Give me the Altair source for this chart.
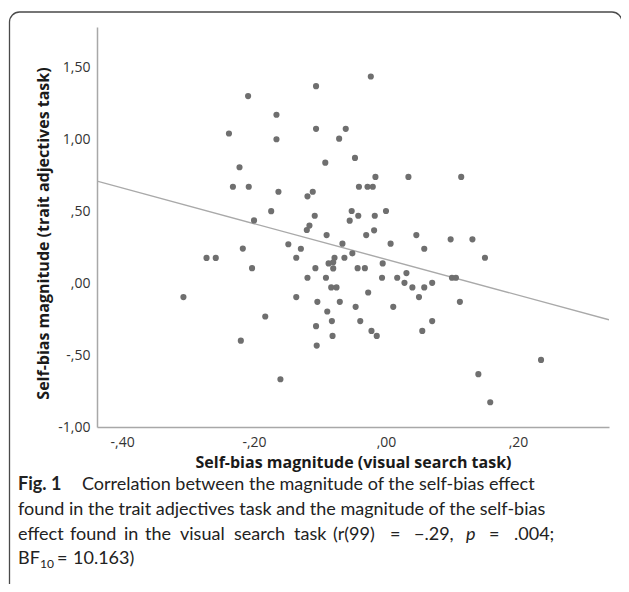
import altair as alt
import pandas as pd

# Self-bias magnitude (visual search task)
visual = [
    -0.209, -0.166, -0.238, -0.166, -0.222, -0.232, -0.208, -0.163, -0.174, -0.200,
    -0.148, -0.217, -0.272, -0.258, -0.203, -0.307, -0.183, -0.220, -0.160,
    -0.023, -0.106, -0.106, -0.061, -0.071, -0.092, -0.047, -0.016, 0.034, 0.114,
    -0.041, -0.028, -0.020, -0.111, -0.119, -0.108, -0.052, 0.000, -0.042, -0.017,
    -0.055, -0.116, -0.120, -0.018, -0.090, -0.030, 0.046, -0.129, -0.066, 0.007,
    0.098, 0.131, 0.058, 0.150, -0.136, -0.078, -0.063, -0.051,
    -0.107, -0.087, -0.080, -0.080, -0.043, -0.032, -0.005, -0.119, -0.091, -0.083,
    -0.075, -0.006, 0.017, 0.031, 0.028, 0.040, 0.058, 0.070, 0.100, 0.106,
    -0.136, -0.104, -0.070, -0.027, 0.050, 0.112, -0.046, 0.011, -0.089, -0.106,
    -0.082, -0.039, 0.070, -0.081, -0.022, -0.014, 0.055, -0.105, 0.140, 0.158, 0.235,
]
# Self-bias magnitude (trait adjectives task)
trait = [
    1.300, 1.170, 1.040, 1.000, 0.805, 0.670, 0.670, 0.635, 0.500, 0.436,
    0.270, 0.240, 0.175, 0.175, 0.104, -0.097, -0.232, -0.400, -0.668,
    1.436, 1.369, 1.072, 1.072, 1.004, 0.837, 0.870, 0.738, 0.738, 0.738,
    0.670, 0.670, 0.670, 0.635, 0.603, 0.468, 0.501, 0.501, 0.468, 0.468,
    0.434, 0.400, 0.369, 0.367, 0.334, 0.334, 0.334, 0.239, 0.274, 0.274,
    0.304, 0.304, 0.239, 0.176, 0.176, 0.176, 0.176, 0.207,
    0.104, 0.137, 0.145, 0.102, 0.104, 0.104, 0.137, 0.037, 0.037, -0.030,
    -0.030, 0.037, 0.037, 0.070, 0.002, -0.030, -0.030, 0.002, 0.037, 0.037,
    -0.097, -0.130, -0.130, -0.065, -0.097, -0.130, -0.165, -0.165, -0.197, -0.299,
    -0.264, -0.264, -0.264, -0.367, -0.332, -0.367, -0.332, -0.434, -0.633, -0.828, -0.534,
]

x_ticks = [-0.4, -0.2, 0.0, 0.2]
y_ticks = [-1.0, -0.5, 0.0, 0.5, 1.0, 1.5]
x_domain = [-0.438, 0.338]
y_domain = [-1.0, 1.78]

x_title = "Self-bias magnitude (visual search task)"
y_title = "Self-bias magnitude (trait adjectives task)"
cap_fig = "Fig. 1"
cap_l1 = "Correlation between the magnitude of the self-bias effect"
cap_l2 = "found in the trait adjectives task and the magnitude of the self-bias"
# third caption line, justified word by word
cap_l3_words = ["effect", "found", "in", "the", "visual", "search", "task", "(r(99)",
                "=", "\u2212.29,", "p", "=", ".004;"]
cap_l3_x = [-79, -27, 27, 48, 83, 137, 197, 236, 293, 317, 369, 392, 417]
cap_l3_italic = ["p"]
cap_l4a = "BF"
cap_l4sub = "10"
cap_l4eq = "="
cap_l4b = "10.163)"

df = pd.DataFrame({"visual": visual, "trait": trait})

label_expr = ("replace(replace(replace(format(datum.value, '.2f'), '\u2212', '-'), "
              "'.', ','), '0,', ',')")

x_enc = alt.X("visual:Q",
              scale=alt.Scale(domain=x_domain, nice=False, zero=False),
              axis=alt.Axis(values=x_ticks, labelExpr=label_expr, title=x_title,
                            titleY=35, titleBaseline="middle", labelPadding=15,
                            labelBaseline="middle"))
y_enc = alt.Y("trait:Q",
              scale=alt.Scale(domain=y_domain, nice=False, zero=False),
              axis=alt.Axis(values=y_ticks, labelExpr=label_expr, title=y_title,
                            titleX=-54, titleY=206, titleBaseline="middle",
                            titleAlign="center", labelPadding=7))

base = alt.Chart(df)

points = base.mark_circle(size=38, color="#6f6f6f", opacity=1).encode(x=x_enc, y=y_enc)

reg = base.transform_regression("visual", "trait", extent=x_domain).mark_line(
    color="#a9a9a9", strokeWidth=1.4, clip=True
).encode(x=x_enc, y=y_enc)

CAP_FONT = "Lato"
CAP_SIZE = 18
CAP_COLOR = "#222222"


def txt(s, x, y, size=CAP_SIZE, weight="normal", style="normal"):
    return alt.Chart(alt.Data(values=[{"t": s}])).mark_text(
        align="left", baseline="middle", font=CAP_FONT, fontSize=size,
        fontWeight=weight, fontStyle=style, color=CAP_COLOR
    ).encode(x=alt.value(x), y=alt.value(y), text="t:N")


frame = alt.Chart(alt.Data(values=[{"k": 1}])).mark_rect(
    fill=None, stroke="#4a4a4a", strokeWidth=1.3, cornerRadius=10
).encode(x=alt.value(-87.5), x2=alt.value(525), y=alt.value(-15), y2=alt.value(600))

L1, L2, L3, L4 = 458, 483, 508, 532
captions = [
    txt(cap_fig, -79, L1, weight="bold"),
    txt(cap_l1, -15, L1),
    txt(cap_l2, -79, L2),
]
for w, xw in zip(cap_l3_words, cap_l3_x):
    captions.append(txt(w, xw, L3, style="italic" if w in cap_l3_italic else "normal"))
captions += [
    txt(cap_l4a, -79, L4),
    txt(cap_l4sub, -57, L4 + 5, size=12),
    txt(cap_l4eq, -40, L4),
    txt(cap_l4b, -24, L4),
]

chart = alt.layer(frame, reg, points, *captions).properties(
    width=512, height=400,
    autosize=alt.AutoSizeParams(type="none"),
    padding={"left": 89, "top": 19, "right": 12, "bottom": 157},
).configure_view(stroke=None).configure_axis(
    grid=False, domainColor="#a8a8a8", domainWidth=1.5, ticks=True, tickSize=0,
    labelFont="Open Sans", labelFontSize=14, labelColor="#333333",
    titleFont="Open Sans", titleFontSize=16, titleFontWeight="bold", titleColor="#1a1a1a",
)

chart.save("out.html", embed_options={"renderer": "svg", "actions": False})
